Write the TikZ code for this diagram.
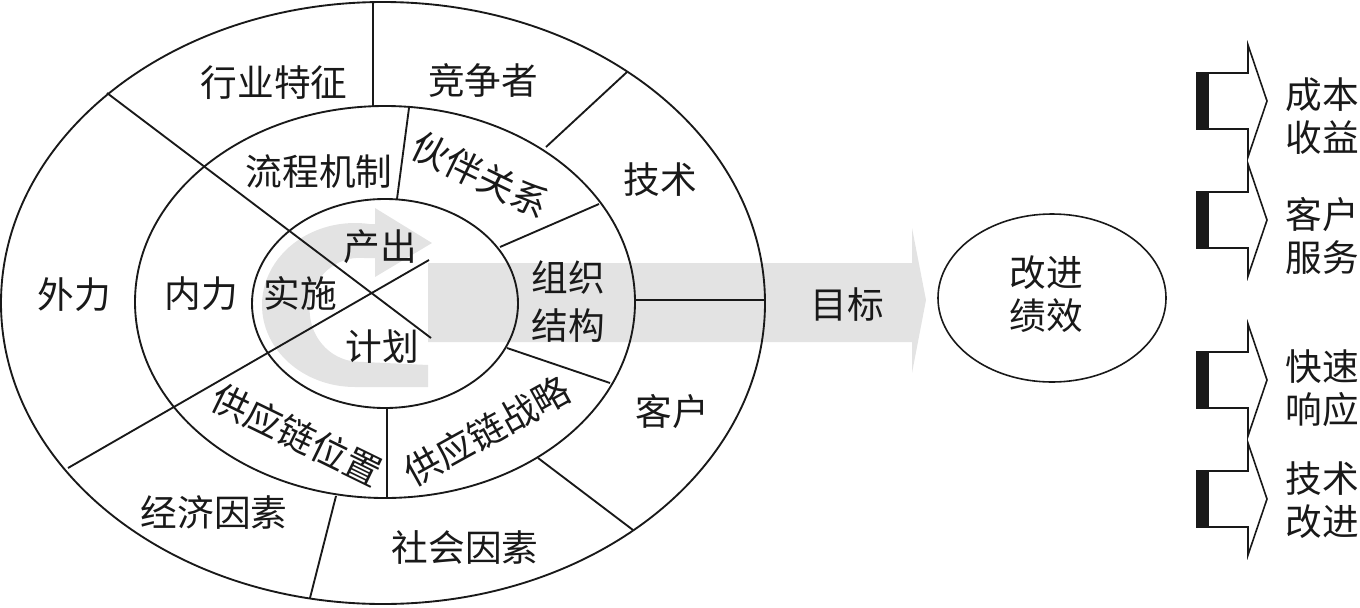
\documentclass[tikz,border=0pt]{standalone}
\usepackage{fontspec}
\newfontfamily\cjk{Noto Sans CJK SC}
\usetikzlibrary{shapes.geometric}
\begin{document}
\begin{tikzpicture}[x=0.75pt,y=-0.75pt]
\tikzset{
  ring/.style={line width=1.4pt, draw=black!90},
  lbl/.style={font=\cjk\fontsize{27.5}{36}\selectfont, inner sep=0pt, align=center, text=black!90},
  lblr/.style={font=\cjk\fontsize{27.5}{32.5}\selectfont, inner sep=0pt, align=center, text=black!90},
  shade/.style={fill=black!11, draw=none},
  side/.style={draw=black!90, line width=1.2pt, fill=white, line join=miter},
}
\useasboundingbox (0,0) rectangle (1360,607);
% gray target arrow
\fill[shade] (428,263) -- (912,263) -- (912,228) -- (926,300) -- (912,373) -- (912,342) -- (428,342) -- cycle;
% gray circular arrow
\fill[shade] (428,365) -- (428,387) -- (355,387)
  arc[start angle=90, end angle=280, x radius=93, y radius=82]
  -- (375,224) -- (375,208) -- (432,243) -- (375,277) -- (375,258) -- (364,258)
  arc[start angle=275, end angle=90, x radius=50, y radius=52] -- cycle;
% ellipses
\draw[ring] (383,303) ellipse [x radius=382, y radius=301];
\draw[ring] (385,302) ellipse [x radius=250, y radius=196];
\draw[ring] (385,303.5) ellipse [x radius=133, y radius=104.5];
% outer ring dividers
\draw[ring] (373,2) -- (373,106);
\draw[ring] (627,72) -- (546,147);
\draw[ring] (635,300) -- (765,300);
\draw[ring] (538,458) -- (633,530);
\draw[ring] (336,496) -- (310,598);
\draw[ring] (68,468) -- (429,260);
\draw[ring] (107,93) -- (431,338);
% middle ring dividers
\draw[ring] (409,108) -- (397,199);
\draw[ring] (599,204) -- (500,247);
\draw[ring] (507,348) -- (610,383);
\draw[ring] (387,408) -- (387,497);
% side arrows
\foreach \c in {101,220,380,499} {
  \draw[side] (1197,\c-28) -- (1248,\c-28) -- (1248,\c-56) -- (1267,\c) -- (1248,\c+56) -- (1248,\c+28) -- (1197,\c+28) -- cycle;
  \fill[black!90] (1197,\c-28) rectangle (1209,\c+28);
}
% labels
\node[lbl] (hy) at (274,83) {行业特征};
\node[lbl] (jz) at (483,80) {竞争者};
\node[lbl] (js) at (660,180) {技术};
\node[lbl] (wl) at (74,295) {外力};
\node[lbl] (nl) at (201,294) {内力};
\node[lbl] (ss) at (300,293) {实施};
\node[lbl] (cc) at (380,247) {产出};
\node[lbl] (jh) at (382,347) {计划};
\node[lbl] (lc) at (319,172) {流程机制};
\node[lbl] (zz) at (568,302) {组织\\结构};
\node[lbl] (kh) at (672,412) {客户};
\node[lbl] (sh) at (465,547) {社会因素};
\node[lbl] (jj) at (214,512) {经济因素};
\node[lbl, rotate=-26] (hb) at (481,175) {伙伴关系};
\node[lbl, rotate=29] (zl) at (487,431) {供应链战略};
\node[lbl, rotate=-26] (wz) at (297,435) {供应链位置};
\node[lbl] (mb) at (847,305) {目标};
\node[ellipse, draw=black!90, line width=1.2pt, minimum width=171pt, minimum height=126pt, inner sep=0pt] (perf) at (1052,298) {};
\node[lblr] (perft) at (1046,294) {改进\\绩效};
\node[lblr] (r1) at (1322,116) {成本\\收益};
\node[lblr] (r2) at (1322,236) {客户\\服务};
\node[lblr] (r3) at (1322,388) {快速\\响应};
\node[lblr] (r4) at (1322,500) {技术\\改进};
\end{tikzpicture}
\end{document}
